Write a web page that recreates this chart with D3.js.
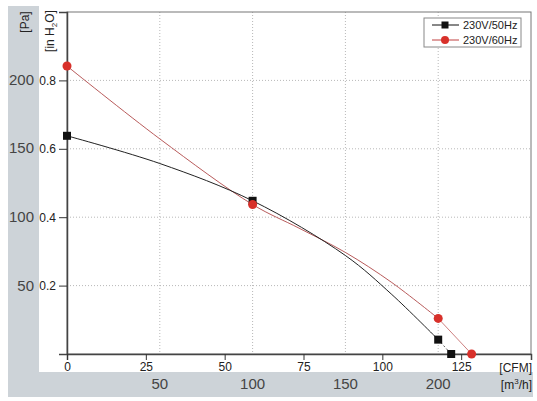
<!DOCTYPE html>
<html>
<head>
<meta charset="utf-8">
<script src="https://cdn.jsdelivr.net/npm/d3@7"></script>
<style>
  html, body { margin: 0; padding: 0; background: #fff; }
  svg { display: block; font-family: "Liberation Sans", Arial, sans-serif; }
</style>
</head>
<body>
<div id="chart"></div>
<script>
// flow in m3/h, pressure in inH2O
const seriesNames = ['230V/50Hz', '230V/60Hz'];
const pts50Flow = [0, 100, 200, 207];
const pts50Press = [0.638, 0.448, 0.042, 0];
const pts60Flow = [0, 100, 200, 218];
const pts60Press = [0.842, 0.437, 0.104, 0];

// curve samples
const curve50Flow = [0, 50, 100, 150, 175, 200];
const curve50Press = [0.638, 0.557, 0.448, 0.288, 0.174, 0.042];
const curve60Flow = [0, 50, 100, 125, 150, 175, 200];
const curve60Press = [0.842, 0.629, 0.437, 0.368, 0.297, 0.209, 0.104];

const inTicks = [0.2, 0.4, 0.6, 0.8];
const paTicks = [50, 100, 150, 200];
const cfmTicks = [0, 25, 50, 75, 100, 125];
const m3hTicks = [50, 100, 150, 200];

const W = 537, H = 401;
const plot = { left: 67, right: 531, top: 12, bottom: 354 };

const svg = d3.select('#chart').append('svg')
    .attr('width', W)
    .attr('height', H);

const x = d3.scaleLinear().domain([0, 250]).range([plot.left, plot.right]);
const xCfm = d3.scaleLinear().domain([0, 250 / 1.699]).range([plot.left, plot.right]);
const y = d3.scaleLinear().domain([0, 1]).range([plot.bottom, plot.top]);
const PA_PER_IN = 249.09;

// gray bands
const band = '#cdd3d8';
svg.append('rect').attr('x', 8).attr('y', 6).attr('width', 31).attr('height', 391).attr('fill', band);
svg.append('rect').attr('x', 8).attr('y', 372).attr('width', 525).attr('height', 25).attr('fill', band);

// grid
const grid = svg.append('g')
    .attr('stroke', '#b8b8b8')
    .attr('stroke-dasharray', '1,2');
grid.selectAll('.h').data(inTicks).join('line')
    .attr('x1', plot.left).attr('x2', plot.right)
    .attr('y1', d => y(d)).attr('y2', d => y(d));
grid.selectAll('.v').data(m3hTicks).join('line')
    .attr('x1', d => x(d)).attr('x2', d => x(d))
    .attr('y1', plot.top).attr('y2', plot.bottom);

// frame
svg.append('rect')
    .attr('x', plot.left).attr('y', plot.top)
    .attr('width', plot.right - plot.left).attr('height', plot.bottom - plot.top)
    .attr('fill', 'none').attr('stroke', '#777').attr('stroke-width', 1);

// left axis (inH2O)
const yAxis = svg.append('g')
    .attr('transform', `translate(${plot.left},0)`)
    .call(d3.axisLeft(y).tickValues(inTicks).tickSize(8).tickFormat(d3.format('.1f')));
yAxis.select('.domain').attr('stroke', '#444').attr('stroke-width', 1.5);
yAxis.selectAll('.tick line').attr('stroke', '#333');
yAxis.selectAll('text').attr('font-size', 12).attr('fill', '#222')
    .attr('font-family', '"Liberation Sans", Arial, sans-serif');

// Pa labels
svg.append('g').selectAll('text').data(paTicks).join('text')
    .attr('x', 34)
    .attr('y', d => y(d / PA_PER_IN))
    .attr('dy', '0.36em')
    .attr('text-anchor', 'end')
    .attr('font-size', 15)
    .attr('fill', '#444')
    .text(d => d);

// bottom axis (CFM)
const xAxis = svg.append('g')
    .attr('transform', `translate(0,${plot.bottom})`)
    .call(d3.axisBottom(xCfm).tickValues(cfmTicks).tickSize(6).tickPadding(2));
xAxis.select('.domain').attr('stroke', '#444').attr('stroke-width', 1.5);
xAxis.selectAll('.tick line').attr('stroke', '#333');
xAxis.selectAll('text').attr('font-size', 12).attr('fill', '#222')
    .attr('font-family', '"Liberation Sans", Arial, sans-serif');

// m3/h labels
svg.append('g').selectAll('text').data(m3hTicks).join('text')
    .attr('x', d => x(d))
    .attr('y', 389)
    .attr('text-anchor', 'middle')
    .attr('font-size', 15)
    .attr('fill', '#444')
    .text(d => d);

// unit labels
svg.append('text').attr('x', 532).attr('y', 372).attr('text-anchor', 'end')
    .attr('font-size', 12).attr('fill', '#222').text('[CFM]');
const m3 = svg.append('text').attr('x', 532).attr('y', 389).attr('text-anchor', 'end')
    .attr('font-size', 12).attr('fill', '#222');
m3.append('tspan').text('[m');
m3.append('tspan').attr('font-size', 8).attr('dy', -5).text('3');
m3.append('tspan').attr('dy', 5).text('/h]');

svg.append('text').attr('transform', 'translate(29,22) rotate(-90)')
    .attr('text-anchor', 'middle').attr('font-size', 12).attr('fill', '#222').text('[Pa]');
const inLbl = svg.append('text').attr('transform', 'translate(54,31) rotate(-90)')
    .attr('text-anchor', 'middle').attr('font-size', 12).attr('fill', '#222');
inLbl.append('tspan').text('[in H');
inLbl.append('tspan').attr('font-size', 8).attr('dy', 3).text('2');
inLbl.append('tspan').attr('dy', -3).text('O]');

// curves
const line = d3.line()
    .x(d => x(d[0]))
    .y(d => y(d[1]))
    .curve(d3.curveCatmullRom.alpha(0.5));

const c50 = d3.zip(curve50Flow, curve50Press);
const c60 = d3.zip(curve60Flow, curve60Press);
const p50 = d3.zip(pts50Flow, pts50Press);
const p60 = d3.zip(pts60Flow, pts60Press);

svg.append('path').datum(c60).attr('d', line)
    .attr('fill', 'none').attr('stroke', '#b04848').attr('stroke-width', 0.9);
svg.append('path').datum(c50).attr('d', line)
    .attr('fill', 'none').attr('stroke', '#222').attr('stroke-width', 1);

// tails to zero pressure
svg.append('path').datum(p60.slice(2)).attr('d', d3.line().x(d => x(d[0])).y(d => y(d[1])))
    .attr('fill', 'none').attr('stroke', '#c06060').attr('stroke-width', 0.8);
svg.append('path').datum(p50.slice(2)).attr('d', d3.line().x(d => x(d[0])).y(d => y(d[1])))
    .attr('fill', 'none').attr('stroke', '#333').attr('stroke-width', 0.8)
    .attr('stroke-dasharray', '2,2');

// markers
svg.append('g').selectAll('rect').data(p50).join('rect')
    .attr('x', d => x(d[0]) - 4).attr('y', d => y(d[1]) - 4)
    .attr('width', 8).attr('height', 8).attr('fill', '#111');
svg.append('g').selectAll('circle').data(p60).join('circle')
    .attr('cx', d => x(d[0])).attr('cy', d => y(d[1]))
    .attr('r', 4.5).attr('fill', '#d8302a');

// legend
const lg = svg.append('g').attr('transform', 'translate(424,18)');
lg.append('rect').attr('width', 97).attr('height', 29)
    .attr('fill', '#fff').attr('stroke', '#888');
const items = lg.selectAll('g').data(seriesNames).join('g')
    .attr('transform', (d, i) => `translate(0,${7 + i * 15})`);
items.append('line').attr('x1', 8).attr('x2', 35)
    .attr('stroke', (d, i) => i ? '#c04040' : '#111');
items.filter((d, i) => i === 0).append('rect')
    .attr('x', 17.5).attr('y', -3.5).attr('width', 7).attr('height', 7).attr('fill', '#111');
items.filter((d, i) => i === 1).append('circle')
    .attr('cx', 21).attr('r', 4).attr('fill', '#d8302a');
items.append('text').attr('x', 39).attr('dy', '0.36em')
    .attr('font-size', 11).attr('fill', '#222').text(d => d);
</script>
</body>
</html>
